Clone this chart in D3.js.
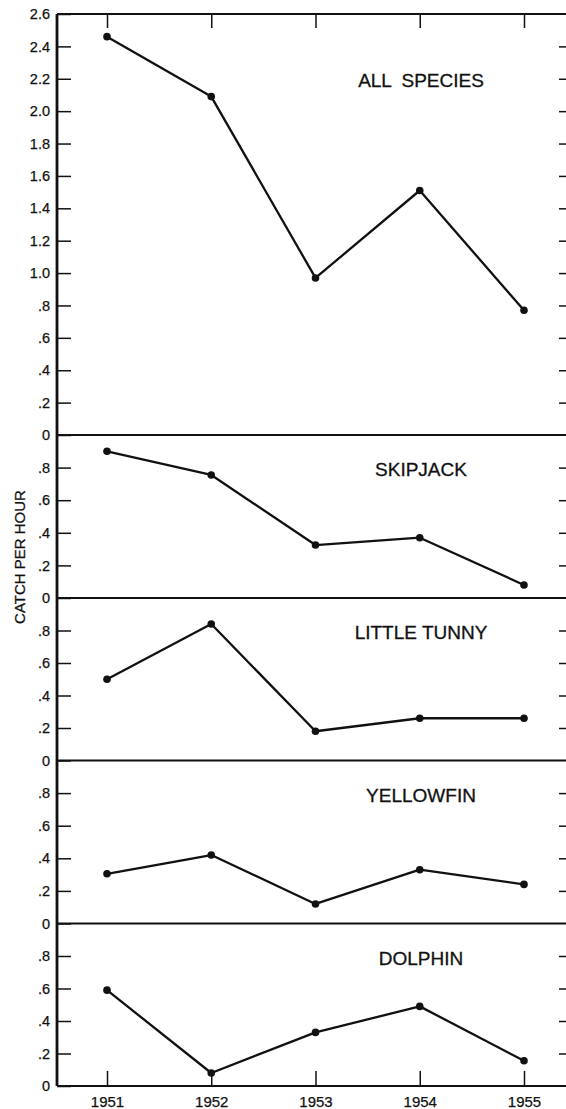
<!DOCTYPE html>
<html>
<head>
<meta charset="utf-8">
<script src="https://cdn.jsdelivr.net/npm/d3@7"></script>
<style>
  html, body { margin: 0; padding: 0; background: #fff; }
  svg { display: block; }
  text { font-family: "Liberation Sans", Arial, sans-serif; fill: #111; }
</style>
</head>
<body>
<svg id="chart" width="566" height="1109"></svg>
<script>
// ---- data ----
const years = [1951, 1952, 1953, 1954, 1955];
const panelNames = ["ALL SPECIES", "SKIPJACK", "LITTLE TUNNY", "YELLOWFIN", "DOLPHIN"];
const allSpecies = [2.46, 2.09, 0.97, 1.51, 0.77];
const skipjack   = [0.90, 0.755, 0.325, 0.37, 0.08];
const littleTunny = [0.50, 0.84, 0.18, 0.26, 0.26];
const yellowfin  = [0.305, 0.42, 0.12, 0.33, 0.24];
const dolphin    = [0.59, 0.08, 0.33, 0.49, 0.155];
const topTicks = [0, 0.2, 0.4, 0.6, 0.8, 1.0, 1.2, 1.4, 1.6, 1.8, 2.0, 2.2, 2.4, 2.6];
const lowTicks = [0, 0.2, 0.4, 0.6, 0.8];
const yTitle = "CATCH PER HOUR";

const seriesList = [allSpecies, skipjack, littleTunny, yellowfin, dolphin];
const domains = [[0, 2.6], [0, 1], [0, 1], [0, 1], [0, 1]];
const tickSets = [topTicks, lowTicks, lowTicks, lowTicks, lowTicks];

// ---- layout ----
const left = 57, right = 567;
const bounds = [14, 435, 598, 760.5, 923.5, 1086]; // panel top/bottom edges
const svg = d3.select("#chart");

const x = d3.scaleLinear().domain([1951, 1955]).range([107, 524]);

const fmt = d => {
  if (d === 0) return "0";
  const s = d3.format(".1f")(d);
  return d < 1 ? s.replace(/^0/, "") : s;
};

panelNames.forEach((name, i) => {
  const y = d3.scaleLinear().domain(domains[i]).range([bounds[i + 1], bounds[i]]);
  const g = svg.append("g");

  // left axis, ticks inward
  const la = g.append("g").attr("transform", `translate(${left},0)`)
    .call(d3.axisLeft(y).tickValues(tickSets[i]).tickSize(-14).tickPadding(7).tickFormat(fmt));
  la.select(".domain").remove();
  la.selectAll("line").attr("stroke", "#111").attr("stroke-width", 1.5);
  la.selectAll("text").attr("font-size", 14.5).attr("fill", "#111")
    .attr("stroke", "#111").attr("stroke-width", 0.25)
    .attr("font-family", "'Liberation Sans', Arial, sans-serif");

  // right axis, ticks inward, no labels
  const ra = g.append("g").attr("transform", `translate(${right},0)`)
    .call(d3.axisRight(y).tickValues(tickSets[i].filter(v => v > 0 && v < domains[i][1])).tickSize(-8).tickFormat(""));
  ra.select(".domain").remove();
  ra.selectAll("line").attr("stroke", "#111").attr("stroke-width", 1.5);

  // series line
  const data = years.map((yr, k) => ({ yr, v: seriesList[i][k] }));
  g.append("path").datum(data)
    .attr("fill", "none").attr("stroke", "#111").attr("stroke-width", 2.3)
    .attr("stroke-linejoin", "round")
    .attr("d", d3.line().x(d => x(d.yr)).y(d => y(d.v)));
  g.selectAll("circle").data(data).join("circle")
    .attr("cx", d => x(d.yr)).attr("cy", d => y(d.v)).attr("r", 3.8).attr("fill", "#111");

  // panel label
  g.append("text")
    .attr("x", 421)
    .attr("y", bounds[i] + (i === 0 ? 73 : 41))
    .attr("text-anchor", "middle")
    .attr("font-size", 19)
    .attr("stroke", "#111").attr("stroke-width", 0.3)
    .attr("word-spacing", i === 0 ? 5 : 0)
    .text(name);
});

// horizontal frame lines (panel boundaries)
svg.append("g").selectAll("line").data(bounds).join("line")
  .attr("x1", left).attr("x2", right)
  .attr("y1", d => d).attr("y2", d => d)
  .attr("stroke", "#111").attr("stroke-width", 2.2);

// left frame line
svg.append("line")
  .attr("x1", left).attr("x2", left)
  .attr("y1", bounds[0]).attr("y2", bounds[bounds.length - 1])
  .attr("stroke", "#111").attr("stroke-width", 2.8);

// top x ticks
const ta = svg.append("g").attr("transform", `translate(0,${bounds[0]})`)
  .call(d3.axisBottom(x).tickValues(years).tickSize(14).tickFormat(""));
ta.select(".domain").remove();
ta.selectAll("line").attr("stroke", "#111").attr("stroke-width", 1.5);

// bottom x axis
const ba = svg.append("g").attr("transform", `translate(0,${bounds[bounds.length - 1]})`)
  .call(d3.axisBottom(x).tickValues(years).tickSize(-15).tickPadding(10).tickFormat(d3.format("d")));
ba.select(".domain").remove();
ba.selectAll("line").attr("stroke", "#111").attr("stroke-width", 1.5);
ba.selectAll("text").attr("font-size", 15).attr("fill", "#111")
  .attr("stroke", "#111").attr("stroke-width", 0.25)
  .attr("font-family", "'Liberation Sans', Arial, sans-serif");

// y-axis title
svg.append("text")
  .attr("transform", "translate(25,557) rotate(-90)")
  .attr("text-anchor", "middle")
  .attr("font-size", 15)
  .attr("stroke", "#111").attr("stroke-width", 0.25)
  .text(yTitle);
</script>
</body>
</html>
